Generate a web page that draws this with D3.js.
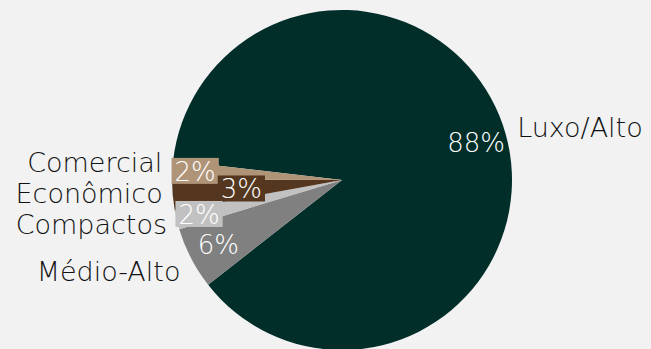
<!DOCTYPE html>
<html lang="pt">
<head>
  <meta charset="utf-8">
  <script src="https://d3js.org/d3.v7.min.js"></script>
  <style>
    html, body { margin: 0; padding: 0; background: #f2f2f2; }
    svg { display: block; }
    text { font-family: "DejaVu Sans", Lato, sans-serif; font-weight: 200; }
  </style>
</head>
<body>
<svg width="651" height="349"></svg>
<script>
// slice order is clockwise, starting at the top-left edge of Luxo/Alto
var categories = ["Luxo/Alto", "Médio-Alto", "Compactos", "Econômico", "Comercial"];
var shares = [87.6, 5.9, 1.8, 2.9, 1.8];
var pctLabels = ["88%", "6%", "2%", "3%", "2%"];
var colors = ["#022e2a", "#808080", "#c1c1c1", "#55371f", "#b09478"];

var svg = d3.select("svg"),
    cx = 342, cy = 180, radius = 170;

var data = categories.map(function(c, i) {
  return { name: c, value: shares[i], label: pctLabels[i], color: colors[i] };
});

var pie = d3.pie()
  .sort(null)
  .value(function(d) { return d.value; })
  .startAngle(-83.4 * Math.PI / 180)
  .endAngle((360 - 83.4) * Math.PI / 180);

var arcs = pie(data);
var arc = d3.arc().innerRadius(0).outerRadius(radius);

var g = svg.append("g").attr("transform", "translate(" + cx + "," + cy + ")");

g.selectAll("path.slice")
  .data(arcs)
  .enter().append("path")
  .attr("class", "slice")
  .attr("d", arc)
  .attr("fill", function(d) { return d.data.color; });

function mid(d) { return (d.startAngle + d.endAngle) / 2; }
function at(a, r) { return [Math.sin(a) * r, -Math.cos(a) * r]; }

// outside category labels, stacked so they don't collide
var outer = arcs.map(function(d) {
  var p = at(mid(d), radius + (d.data.value > 5 ? 12 : 10));
  return { d: d, x: p[0], y: p[1], left: p[0] < 0 };
});
outer.forEach(function(o) { if (!o.left) o.y -= 3; });
var leftSide = outer.filter(function(o) { return o.left; })
  .sort(function(a, b) { return a.y - b.y; });
var gap = 31;
for (var k = 1; k < leftSide.length; k++) {
  if (leftSide[k].y - leftSide[k - 1].y < gap) leftSide[k].y = leftSide[k - 1].y + gap;
}
// recentre the small cluster around its mean
var cluster = leftSide.filter(function(o) { return o.d.data.value < 4; });
var want = d3.mean(cluster, function(o) { return at(mid(o.d), radius)[1]; });
var have = d3.mean(cluster, function(o) { return o.y; });
cluster.forEach(function(o) { o.y += want - have - 2; });
// the big slice label keeps a wider gap below the cluster
for (var k = 1; k < leftSide.length; k++) {
  var big = gap + 16;
  if (leftSide[k].d.data.value > 5 && leftSide[k].y - leftSide[k - 1].y < big) {
    leftSide[k].y = leftSide[k - 1].y + big;
  }
}

g.selectAll("text.cat")
  .data(outer)
  .enter().append("text")
  .attr("class", "cat")
  .attr("x", function(o) { return o.x; })
  .attr("y", function(o) { return o.y; })
  .attr("dy", "0.36em")
  .attr("text-anchor", function(o) { return o.left ? "end" : "start"; })
  .attr("font-size", "27px")
  .attr("fill", "#111")
  .text(function(o) { return o.d.data.name; });

// percentage labels; small slices get a box in the slice colour
// placed from the top down so lower boxes are the ones pushed inward
var placed = [];
arcs.slice().sort(function(a, b) { return at(mid(a), 1)[1] - at(mid(b), 1)[1]; })
  .forEach(function(d) {
  var small = d.data.value < 4;
  var lab = g.append("g");
  var rect = lab.append("rect").attr("fill", d.data.color);
  var t = lab.append("text")
    .attr("text-anchor", "middle")
    .attr("dy", "0.36em")
    .attr("font-size", "26px")
    .attr("fill", "#ffffff")
    .text(d.data.label);
  var bb = t.node().getBBox();
  var w = bb.width + 4, h = 25;
  var r = radius * (small ? 0.865 : 0.82);
  var p = at(mid(d), r);
  if (small) {
    var hit = function(q) {
      return placed.some(function(b) {
        return Math.abs(b[0] - q[0]) < (b[2] + w) / 2 && Math.abs(b[1] - q[1]) < (b[3] + h) / 2;
      });
    };
    while (hit(p) && r > 20) { r -= 2; p = at(mid(d), r); }
    placed.push([p[0], p[1], w, h]);
    rect.attr("x", p[0] - w / 2 - 1).attr("y", p[1] - h / 2 - 1).attr("width", w + 2).attr("height", h + 1);
  } else {
    rect.remove();
  }
  t.attr("x", p[0]).attr("y", p[1]);
});
</script>
</body>
</html>
